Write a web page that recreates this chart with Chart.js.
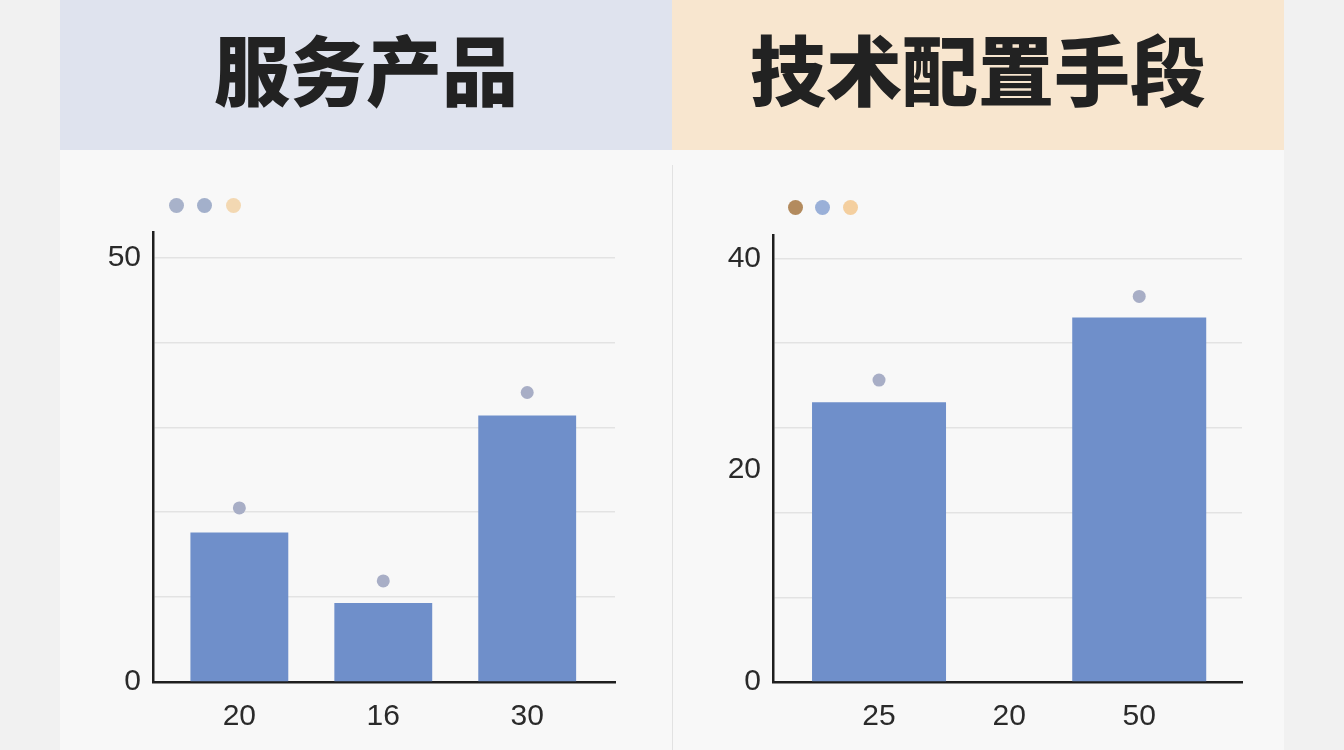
<!DOCTYPE html>
<html lang="zh">
<head>
<meta charset="utf-8">
<title>服务产品 / 技术配置手段</title>
<script src="https://cdn.jsdelivr.net/npm/chart.js@4"></script>
<style>
  html, body { margin: 0; padding: 0; }
  body {
    width: 1344px; height: 750px; overflow: hidden; position: relative;
    background: #f1f1f1;
    font-family: "Liberation Sans", Arial, sans-serif;
  }
  .panel { position: absolute; top: 0; width: 612px; height: 750px; background: #f8f8f8; }
  .panel.left { left: 60px; }
  .panel.right { left: 672px; width: 612px; }
  .head {
    position: absolute; left: 0; top: 0; width: 100%; height: 150px; box-sizing: border-box;
    padding-bottom: 16px;
    display: flex; align-items: center; justify-content: center;
    font-family: "Noto Sans CJK SC", sans-serif; font-weight: 900;
    font-size: 76px; color: #222;
  }
  .left .head { background: #dfe3ee; }
  .right .head { background: #f8e6cf; }
  .sep { position: absolute; left: 672px; top: 165px; width: 1px; height: 585px; background: #e2e2e2; }
  .box { position: absolute; top: 150px; width: 612px; height: 600px; }
  .dot { position: absolute; width: 15px; height: 15px; border-radius: 50%; margin: -7.5px 0 0 -7.5px; }
</style>
</head>
<body>
<div class="panel left"><div class="head">服务产品</div></div>
<div class="panel right"><div class="head">技术配置手段</div></div>
<div class="sep"></div>
<div class="box" style="left:60px"><canvas id="left-chart"></canvas></div>
<div class="box" style="left:672px"><canvas id="right-chart"></canvas></div>
<div id="dots"></div>
<script>
// ---- data ----
const leftCategories = ["20", "16", "30"];
const leftBars = [17.6, 9.3, 31.4];
const leftDots = [20.5, 11.9, 34.1];
const leftYTicks = [0, 10, 20, 30, 40, 50];
const leftYShown = [0, 50];

const rightCategories = ["25", "20", "50"];
const rightBars = [26.4, null, 34.4];
const rightDots = [28.5, null, 36.4];
const rightYTicks = [0, 8, 16, 20, 24, 32, 40];
const rightYShown = [0, 20, 40];

// 图例圆点（无文字）
const leftLegendColors = ["#a8b2ca", "#a3b0cb", "#f3d8b2"];
const rightLegendColors = ["#b38b5e", "#9ab0d8", "#f4cf9f"];

const BAR = "#6f8fca";
const DOT = "#a8aec6";
const INK = "#2a2a2a";

function toXY(values) {
  return values.map((v, i) => ({ x: i, y: v }));
}

function makeChart(id, cfg) {
  const ctx = document.getElementById(id).getContext("2d");
  return new Chart(ctx, {
    data: {
      datasets: [
        {
          type: "line",
          data: toXY(cfg.dots),
          showLine: false,
          pointRadius: 6.5,
          pointHoverRadius: 6.5,
          pointBackgroundColor: DOT,
          pointBorderWidth: 0,
        },
        {
          type: "bar",
          data: toXY(cfg.bars),
          backgroundColor: BAR,
          categoryPercentage: 1,
          barPercentage: cfg.barPct,
        },
      ],
    },
    options: {
      responsive: true,
      maintainAspectRatio: false,
      animation: false,
      layout: { padding: { left: 0, right: cfg.padRight, top: cfg.padTop, bottom: 0 } },
      plugins: { legend: { display: false }, tooltip: { enabled: false } },
      scales: {
        x: {
          type: "linear",
          offset: false,
          min: cfg.xMin,
          max: cfg.xMax,
          afterBuildTicks: (s) => { s.ticks = cfg.categories.map((_, i) => ({ value: i })); },
          afterFit: (s) => { s.height = 68; },
          grid: { color: "transparent", drawTicks: false, offset: false },
          border: { display: true, color: "#1e1e1e", width: 2.5 },
          ticks: {
            padding: 17,
            color: INK,
            font: { size: 30, family: "'Liberation Sans', Arial, sans-serif" },
            callback: (v) => cfg.categories[v] ?? "",
          },
        },
        y: {
          min: 0,
          max: cfg.yMax,
          afterBuildTicks: (s) => { s.ticks = cfg.yTicks.map((v) => ({ value: v })); },
          afterFit: (s) => { s.width = cfg.yWidth; },
          grid: {
            drawTicks: false,
            lineWidth: 1.5,
            color: (c) => (cfg.noGrid.includes(c.tick?.value) ? "transparent" : "#e3e3e3"),
          },
          border: { display: true, color: "#1e1e1e", width: 2.5 },
          ticks: {
            padding: 12,
            color: INK,
            font: { size: 30, family: "'Liberation Sans', Arial, sans-serif" },
            callback: (v) => (cfg.yShown.includes(v) ? String(v) : ""),
          },
        },
      },
    },
  });
}

makeChart("left-chart", {
  categories: leftCategories, bars: leftBars, dots: leftDots,
  yTicks: leftYTicks, yShown: leftYShown, noGrid: [],
  yMax: 53, xMin: -0.6, xMax: 2.61, barPct: 0.68,
  yWidth: 93, padRight: 57, padTop: 82,
});

makeChart("right-chart", {
  categories: rightCategories, bars: rightBars, dots: rightDots,
  yTicks: rightYTicks, yShown: rightYShown, noGrid: [20],
  yMax: 42.2, xMin: -0.815, xMax: 2.79, barPct: 1.03,
  yWidth: 101, padRight: 42, padTop: 85,
});

// 顶部小圆点
const dotsBox = document.getElementById("dots");
function addDots(colors, x0, y, gap) {
  colors.forEach((c, i) => {
    const d = document.createElement("div");
    d.className = "dot";
    d.style.left = x0 + i * gap + "px";
    d.style.top = y + "px";
    d.style.background = c;
    dotsBox.appendChild(d);
  });
}
addDots(leftLegendColors, 176, 205, 28.5);
addDots(rightLegendColors, 795, 207, 27.5);
</script>
</body>
</html>
